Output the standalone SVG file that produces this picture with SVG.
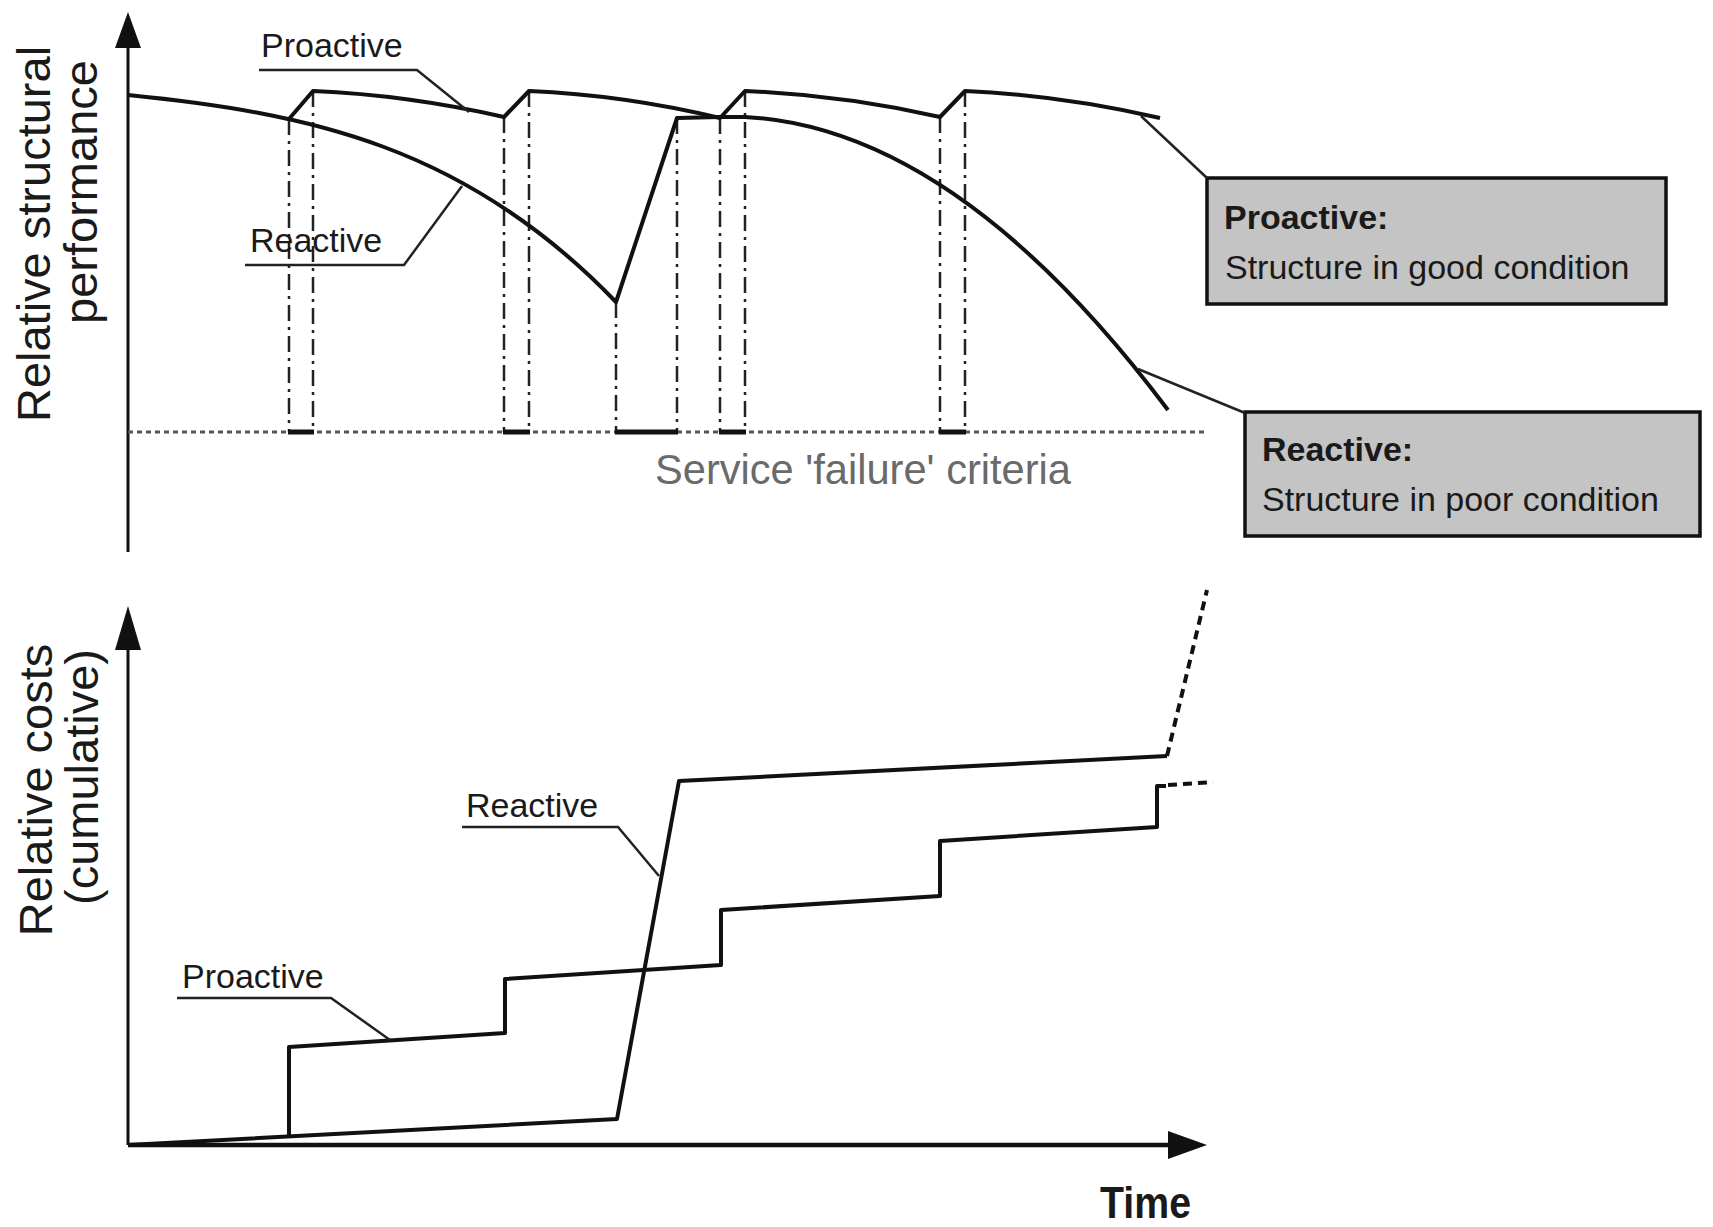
<svg xmlns="http://www.w3.org/2000/svg" width="1713" height="1227" viewBox="0 0 1713 1227">
  <defs>
    <style>
      .ax{stroke:#111;stroke-width:3;fill:none}
      .axx{stroke:#111;stroke-width:4.5;fill:none}
      .ah{fill:#111}
      .curve{stroke:#111;stroke-width:4;fill:none;stroke-linejoin:round}
      .ext{stroke:#111;stroke-width:4;fill:none;stroke-dasharray:9 6}
      .drop{stroke:#222;stroke-width:2.5;fill:none;stroke-dasharray:16 6 3 6}
      .bar{stroke:#111;stroke-width:5}
      .fail{stroke:#555;stroke-width:3;stroke-dasharray:5 4;fill:none}
      .lead{stroke:#222;stroke-width:2.5;fill:none}
      .lbl{font-family:"Liberation Sans",Arial,sans-serif;font-size:34px;fill:#1a1a1a}
      .axl{font-family:"Liberation Sans",Arial,sans-serif;font-size:47px;fill:#1a1a1a;text-anchor:middle}
      .box{fill:#c4c4c4;stroke:#111;stroke-width:3.5}
      .b{font-weight:bold}
    </style>
  </defs>
  <rect width="1713" height="1227" fill="#ffffff"/>

  <!-- performance chart axis -->
  <g id="axis-performance">
    <line class="ax" x1="128" y1="552" x2="128" y2="44"/>
    <polygon class="ah" points="128,12 115,48 141,48"/>
    <text class="axl" transform="translate(50,234) rotate(-90)">Relative structural</text>
    <text class="axl" transform="translate(97,192) rotate(-90)">performance</text>
  </g>

  <!-- failure threshold -->
  <g id="failure-criteria">
    <line class="fail" x1="128" y1="432" x2="1207" y2="432"/>
    <text class="lbl" x="655" y="484" font-size="42" fill="#6a6a6a" textLength="416" lengthAdjust="spacingAndGlyphs" style="font-size:42px;fill:#6a6a6a">Service 'failure' criteria</text>
  </g>

  <!-- intervention drops to the failure line -->
  <g id="interventions">
    <line class="drop" x1="289" y1="119" x2="289" y2="432"/>
    <line class="drop" x1="313" y1="91" x2="313" y2="432"/>
    <line class="drop" x1="504" y1="117" x2="504" y2="432"/>
    <line class="drop" x1="529" y1="91" x2="529" y2="432"/>
    <line class="drop" x1="616" y1="302" x2="616" y2="432"/>
    <line class="drop" x1="677" y1="118" x2="677" y2="432"/>
    <line class="drop" x1="720" y1="118" x2="720" y2="432"/>
    <line class="drop" x1="745" y1="91" x2="745" y2="432"/>
    <line class="drop" x1="940" y1="117" x2="940" y2="432"/>
    <line class="drop" x1="965" y1="91" x2="965" y2="432"/>
    <line class="bar" x1="288" y1="432" x2="314" y2="432"/>
    <line class="bar" x1="503" y1="432" x2="530" y2="432"/>
    <line class="bar" x1="615" y1="432" x2="678" y2="432"/>
    <line class="bar" x1="719" y1="432" x2="746" y2="432"/>
    <line class="bar" x1="939" y1="432" x2="966" y2="432"/>
  </g>

  <!-- performance curves -->
  <g id="performance-reactive">
    <path class="curve" d="M128,95 C308,113 466,146 616,302 L677,118 L720,117 L745,117 Q956,128 1168,410"/>
  </g>
  <g id="performance-proactive">
    <path class="curve" d="M289,119 L313,91 Q408,95 504,117 L529,91 Q624,95 720,118 L745,91 Q842,95 940,117 L965,91 Q1061,95 1160,118"/>
  </g>

  <!-- curve labels, performance chart -->
  <g id="label-proactive-top">
    <text class="lbl" x="261" y="57">Proactive</text>
  </g>
  <g id="label-reactive-top">
    <text class="lbl" x="250" y="252">Reactive</text>
  </g>

  <!-- callout boxes -->
  <g id="box-proactive">
    <rect class="box" x="1207" y="178" width="459" height="126"/>
    <text class="lbl b" x="1224" y="229">Proactive:</text>
    <text class="lbl" x="1225" y="279">Structure in good condition</text>
  </g>
  <g id="box-reactive">
    <rect class="box" x="1245" y="412" width="455" height="124"/>
    <text class="lbl b" x="1262" y="461">Reactive:</text>
    <text class="lbl" x="1262" y="511">Structure in poor condition</text>
  </g>

  <!-- cost chart axes -->
  <g id="axis-costs">
    <line class="ax" x1="128" y1="1145" x2="128" y2="645"/>
    <polygon class="ah" points="128,606 115,650 141,650"/>
    <line class="axx" x1="128" y1="1145" x2="1172" y2="1145"/>
    <polygon class="ah" points="1207,1145 1168,1131 1168,1159"/>
    <text class="axl" transform="translate(52,790) rotate(-90)">Relative costs</text>
    <text class="axl" transform="translate(98,777) rotate(-90)">(cumulative)</text>
    <text class="lbl b" x="1100" y="1218" textLength="91" lengthAdjust="spacingAndGlyphs" style="font-size:44px">Time</text>
  </g>

  <!-- cost curves -->
  <g id="cost-reactive">
    <path class="curve" d="M128,1145 L617,1119 L679,781 L1167,756"/>
    <path class="ext" d="M1167,756 L1207,590"/>
  </g>
  <g id="cost-proactive">
    <path class="curve" d="M289,1137 L289,1047 L505,1033 L505,979 L721,965 L721,910 L940,896 L940,841 L1157,827 L1157,786 L1166,786"/>
    <path class="ext" d="M1168,785 L1213,782"/>
  </g>

  <g id="label-reactive-cost">
    <text class="lbl" x="466" y="817">Reactive</text>
  </g>
  <g id="label-proactive-cost">
    <text class="lbl" x="182" y="988">Proactive</text>
  </g>

  <!-- leader lines -->
  <g id="connectors">
    <path class="lead" d="M259,70 L417,70 L469,112"/>
    <path class="lead" d="M245,265 L404,265 L462,186"/>
    <path class="lead" d="M1141,116 L1207,178"/>
    <path class="lead" d="M1138,369 L1245,413"/>
    <path class="lead" d="M462,827 L618,827 L659,876"/>
    <path class="lead" d="M177,998 L331,998 L390,1040"/>
  </g>
</svg>
